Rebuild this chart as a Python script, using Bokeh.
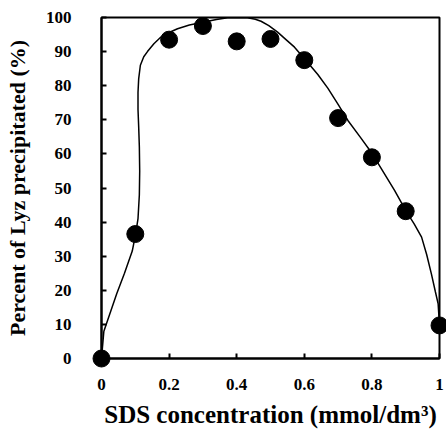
from bokeh.plotting import figure
from bokeh.models import FixedTicker, Range1d
from bokeh.embed import file_html
from bokeh.resources import INLINE

# measured data points
sds = [0.0, 0.1, 0.2, 0.3, 0.4, 0.5, 0.6, 0.7, 0.8, 0.9, 1.0]
precip = [0.0, 36.5, 93.5, 97.5, 93.0, 93.7, 87.5, 70.5, 59.0, 43.2, 9.7]

# fitted curve
curve_x = [0.0, 0.007, 0.045, 0.068, 0.091, 0.101, 0.108, 0.112, 0.113, 0.112,
           0.110, 0.108, 0.108, 0.110, 0.115, 0.125, 0.136, 0.155, 0.175, 0.2,
           0.225, 0.26, 0.3, 0.34, 0.373, 0.40, 0.432, 0.455, 0.472, 0.495,
           0.521, 0.545, 0.571, 0.605, 0.64, 0.67, 0.70, 0.729, 0.765, 0.798,
           0.835, 0.867, 0.902, 0.925, 0.947, 0.962, 0.976, 0.988, 0.996, 1.0]
curve_y = [0.0, 8.0, 19.0, 25.0, 31.5, 36.5, 41.0, 48.0, 55.0, 62.0,
           68.0, 73.0, 78.0, 82.0, 86.0, 88.5, 90.0, 92.3, 94.2, 95.6,
           96.7, 97.8, 98.6, 99.4, 99.9, 100.0, 99.9, 99.5, 98.9, 97.6,
           95.7, 93.6, 91.3, 87.4, 83.3, 79.2, 74.5, 69.8, 65.0, 60.5,
           54.5, 49.3, 43.1, 39.5, 35.6, 30.5, 24.8, 19.5, 16.0, 9.7]

x_ticks = [0, 0.2, 0.4, 0.6, 0.8, 1.0]
x_tick_labels = ["0", "0.2", "0.4", "0.6", "0.8", "1"]
y_ticks = [0, 10, 20, 30, 40, 50, 60, 70, 80, 90, 100]

FONT = "Liberation Serif"

p = figure(width=446, height=432, output_backend="svg", toolbar_location=None,
           x_range=Range1d(0, 1), y_range=Range1d(0, 100),
           min_border_left=101, min_border_right=7, min_border_top=17,
           min_border_bottom=74)
p.background_fill_color = "white"
p.border_fill_color = "white"
p.grid.visible = False
p.outline_line_color = "black"
p.outline_line_width = 2
p.outline_line_alpha = 1.0

p.line(curve_x, curve_y, line_color="black", line_width=1.5)
p.scatter(sds, precip, size=17, fill_color="black", line_color="black",
          level="overlay")

xa = p.xaxis[0]
xa.ticker = FixedTicker(ticks=x_ticks)
xa.major_label_overrides = {t: l for t, l in zip(x_ticks, x_tick_labels)}
xa.axis_label = "SDS concentration (mmol/dm³)"

ya = p.yaxis[0]
ya.ticker = FixedTicker(ticks=y_ticks)
ya.axis_label = "Percent of Lyz precipitated (%)"

for ax in (xa, ya):
    ax.axis_line_width = 2
    ax.axis_line_color = "black"
    ax.major_tick_in = 5
    ax.major_tick_out = 0
    ax.major_tick_line_width = 2
    ax.minor_tick_line_color = None
    ax.major_label_text_font = FONT
    ax.major_label_text_font_style = "bold"
    ax.major_label_text_font_size = "17px"
    ax.major_label_text_color = "black"
    ax.axis_label_text_font = FONT
    ax.axis_label_text_font_style = "bold"
    ax.axis_label_text_color = "black"

xa.axis_label_text_font_size = "25px"
ya.axis_label_text_font_size = "22px"
xa.major_label_standoff = 20
xa.axis_label_standoff = 8
ya.major_label_standoff = 30
ya.axis_label_standoff = 13

open("out.html", "w").write(file_html(p, INLINE))
